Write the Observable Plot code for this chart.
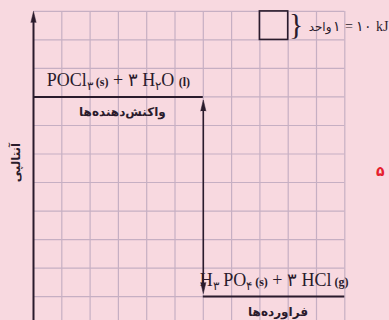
<!DOCTYPE html>
<html><head><meta charset="utf-8">
<script src="https://cdn.jsdelivr.net/npm/d3@7"></script>
<script src="https://cdn.jsdelivr.net/npm/@observablehq/plot@0.6"></script>
<style>
html,body{margin:0;padding:0;background:#f8d9e0;overflow:hidden;}
</style></head><body><div id="chart"></div>
<script>
// grid units: 1 unit = 10 kJ
const gridX = [0,1,2,3,4,5,6,7,8,9,10,11];
const gridY = [-1,0,1,2,3,4,5,6,7,8,9,10];
const levelNames = ["reactants", "products"];
const levelH = [7, 0];
const levelX1 = [0, 6];
const levelX2 = [6, 11];
const levelLabels = ["واکنش‌دهنده‌ها", "فراورده‌ها"];
const reactantFormula = [["POCl","n"],["۳","sub"],[" (s)","st"],[" + ۳ H","n"],["۲","sub"],["O ","n"],["(l)","st"]];
const productFormula = [["H","n"],["۳","sub"],[" PO","n"],["۴","sub"],[" (s)","st"],[" + ۳ HCl","n"],[" (g)","st"]];
const unitCell = [{x1: 8, x2: 9, y1: 9, y2: 10}];
const unitWord = "واحد";
const unitValue = "۱ = ۱۰ kJ";
const axisTitle = "آنتالپی";
const stampText = "۵";

const ink = "#2a1b2c";
const gridColor = "#c6afc3";
const levels = levelNames.map((n, i) => ({name: n, H: levelH[i], x1: levelX1[i], x2: levelX2[i], mid: (levelX1[i] + levelX2[i]) / 2, label: levelLabels[i]}));
const joined = f => f.map(s => s[0]).join("");
const formulas = [
  {text: joined(reactantFormula), x: levels[0].mid, H: levels[0].H},
  {text: joined(productFormula), x: levels[1].mid, H: levels[1].H}
];
const dH = [{x: levels[0].x2, top: levels[0].H, bottom: levels[1].H}];

const serif = "'Liberation Serif', 'DejaVu Serif', serif";
const fa = "'DejaVu Sans', sans-serif";

const plot = Plot.plot({
  width: 389, height: 320, margin: 0,
  x: {domain: [0, 11], range: [33, 344.3], axis: null},
  y: {domain: [0, 10], range: [296.1, 10.9], axis: null},
  style: {background: "#f8d9e0", overflow: "hidden"},
  marks: [
    Plot.ruleX(gridX.slice(1), {x: d => d, y1: -1.3, y2: 10, stroke: gridColor, strokeWidth: 1.2}),
    Plot.ruleY(gridY, {y: d => d, x1: 0, x2: 11, stroke: gridColor, strokeWidth: 1.2}),
    // enthalpy axis
    Plot.ruleX([0], {x: d => d, y1: -1.3, y2: 9.75, stroke: ink, strokeWidth: 2}),
    Plot.vector([0], {x: d => d, y: 10, shape: "spike", anchor: "end", length: 11, r: 2.6, rotate: 0, fill: ink, stroke: ink, strokeWidth: 0.5}),
    Plot.text([axisTitle], {x: -0.6, y: 4.7, text: d => d, rotate: -90, fontFamily: fa, fontWeight: "bold", fontSize: 12, fill: ink}),
    // levels
    Plot.ruleY(levels, {y: "H", x1: "x1", x2: "x2", stroke: ink, strokeWidth: 2}),
    Plot.text(formulas, {x: "x", y: "H", text: "text", dy: -11, lineAnchor: "bottom", fontFamily: serif, fontSize: 18, fill: ink}),
    Plot.text(levels, {x: "mid", y: "H", text: "label", dx: 4, dy: 19, lineAnchor: "bottom", fontFamily: fa, fontWeight: "bold", fontSize: 12, fill: ink}),
    // delta H double arrow
    Plot.ruleX(dH, {x: "x", y1: "top", y2: "bottom", stroke: ink, strokeWidth: 1.6, insetTop: 10, insetBottom: 10}),
    Plot.vector(dH, {x: "x", y: "top", shape: "spike", anchor: "end", length: 11, r: 2.6, rotate: 0, dy: 3, fill: ink, stroke: ink, strokeWidth: 0.5}),
    Plot.vector(dH, {x: "x", y: "bottom", shape: "spike", anchor: "end", length: 11, r: 2.6, rotate: 180, dy: -3, fill: ink, stroke: ink, strokeWidth: 0.5}),
    // unit cell
    Plot.rect(unitCell, {x1: "x1", x2: "x2", y1: "y1", y2: "y2", fill: "none", stroke: ink, strokeWidth: 1.6}),
    Plot.text(["}"], {x: 9.28, y: 9.5, text: d => d, fontFamily: serif, fontSize: 30, fill: ink, dy: -1}),
    Plot.text([unitWord], {x: 10.53, y: 9.5, text: d => d, textAnchor: "end", fontFamily: fa, fontSize: 12, fill: ink, dy: 1}),
    Plot.text([unitValue], {x: 10.6, y: 9.5, text: d => d, textAnchor: "start", fontFamily: serif, fontSize: 14, fill: ink, dy: 1}),
    Plot.text([stampText], {x: 12.1, y: 4.4, text: d => d, textAnchor: "start", fontFamily: fa, fontWeight: "bold", fontSize: 14, fill: "#e5202e"})
  ]
});

function applySegments(svg, segs) {
  const full = joined(segs);
  d3.select(svg).selectAll("text").filter(function() { return this.textContent === full; }).each(function() {
    const t = d3.select(this);
    t.text(null);
    let shifted = false;
    for (const [s, kind] of segs) {
      const ts = t.append("tspan").text(s);
      if (kind === "sub") {
        ts.attr("font-size", 12);
        if (!shifted) ts.attr("dy", 4);
        shifted = true;
      } else {
        if (shifted) { ts.attr("dy", -4); shifted = false; }
        if (kind === "st") ts.attr("font-size", 12).attr("font-weight", "bold");
      }
    }
  });
}
applySegments(plot, reactantFormula);
applySegments(plot, productFormula);
document.getElementById("chart").appendChild(plot);
</script></body></html>
